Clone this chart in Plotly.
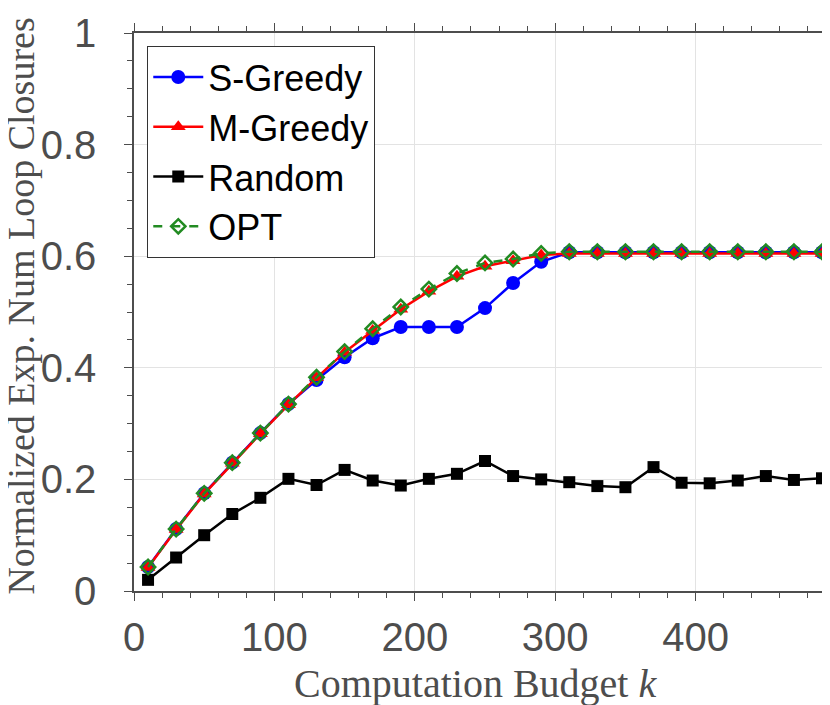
import plotly.graph_objects as go

# computation budget k
budget = [10, 30, 50, 70, 90, 110, 130, 150, 170, 190, 210, 230, 250,
          270, 290, 310, 330, 350, 370, 390, 410, 430, 450, 470, 490]

s_greedy = [0.043, 0.111, 0.175, 0.230, 0.283, 0.335, 0.378, 0.419, 0.453,
            0.473, 0.473, 0.473, 0.507, 0.552, 0.590, 0.607, 0.607, 0.607,
            0.607, 0.607, 0.607, 0.607, 0.607, 0.607, 0.607]
m_greedy = [0.042, 0.110, 0.174, 0.229, 0.282, 0.334, 0.382, 0.428, 0.467,
            0.505, 0.537, 0.564, 0.582, 0.592, 0.602, 0.605, 0.605, 0.605,
            0.605, 0.605, 0.605, 0.605, 0.605, 0.605, 0.605]
random_sel = [0.020, 0.060, 0.100, 0.138, 0.167, 0.201, 0.190, 0.217, 0.198,
              0.189, 0.201, 0.210, 0.233, 0.206, 0.200, 0.195, 0.188, 0.186,
              0.222, 0.194, 0.193, 0.198, 0.206, 0.199, 0.202]
opt = [0.043, 0.111, 0.175, 0.230, 0.283, 0.335, 0.383, 0.429, 0.470,
       0.509, 0.541, 0.569, 0.588, 0.595, 0.605, 0.608, 0.608, 0.608,
       0.608, 0.608, 0.608, 0.608, 0.608, 0.608, 0.608]

sans = "Liberation Sans, Arial, sans-serif"
serif = "Liberation Serif, Times New Roman, serif"
grey = "#4d4d4d"

fig = go.Figure()
fig.add_trace(go.Scatter(
    name="S-Greedy", x=budget, y=s_greedy, mode="lines+markers",
    line=dict(color="#0000ff", width=2.5), cliponaxis=False,
    marker=dict(symbol="circle", size=14, color="#0000ff")))
fig.add_trace(go.Scatter(
    name="M-Greedy", x=budget, y=m_greedy, mode="lines+markers",
    line=dict(color="#ff0000", width=2.5), cliponaxis=False,
    marker=dict(symbol="triangle-up", size=13, color="#ff0000")))
fig.add_trace(go.Scatter(
    name="Random", x=budget, y=random_sel, mode="lines+markers",
    line=dict(color="#000000", width=2.5), cliponaxis=False,
    marker=dict(symbol="square", size=12, color="#000000")))
fig.add_trace(go.Scatter(
    name="OPT", x=budget, y=opt, mode="lines+markers",
    line=dict(color="#228b22", width=2.5, dash="dash"), cliponaxis=False,
    marker=dict(symbol="diamond-open", size=11, color="#228b22",
                line=dict(color="#228b22", width=2.5))))

axis_common = dict(
    showline=True, linecolor=grey, linewidth=1.5, mirror="allticks",
    ticks="outside", ticklen=8, tickcolor=grey, tickwidth=1.2,
    showgrid=True, gridcolor="#e3e3e3", gridwidth=1.2,
    zeroline=False, automargin=False,
    tickfont=dict(family=sans, size=40, color=grey),
)

# the page body adds an 8px offset, so the figure is 8px smaller
fig.update_layout(
    width=822, height=697,
    paper_bgcolor="white", plot_bgcolor="white",
    margin=dict(l=126, r=8, t=25, b=114, autoexpand=False),
    showlegend=True,
    legend=dict(
        x=0.019, y=0.977, xanchor="left", yanchor="top",
        bgcolor="white", bordercolor="#333333", borderwidth=1.2,
        font=dict(family=sans, size=36, color="black"),
        tracegroupgap=0, itemwidth=50,
    ),
    xaxis=dict(
        range=[0, 490], dtick=100, tick0=0,
        minor=dict(dtick=20, ticks="outside", ticklen=5, tickcolor=grey,
                   showgrid=False),
        ticklabelstandoff=2,
        **axis_common),
    yaxis=dict(
        range=[0, 1], dtick=0.2, tick0=0,
        minor=dict(dtick=0.05, ticks="outside", ticklen=5, tickcolor=grey,
                   showgrid=False),
        ticklabelstandoff=20,
        **axis_common),
    annotations=[
        dict(text="Computation Budget <i>k</i>", xref="paper", yref="paper",
             x=0.496, y=-0.165, xanchor="center", yanchor="middle",
             showarrow=False, font=dict(family=serif, size=40, color=grey)),
        dict(text="Normalized Exp. Num Loop Closures", xref="paper",
             yref="paper", x=-0.164, y=0.51, xanchor="center",
             yanchor="middle", textangle=-90, showarrow=False,
             font=dict(family=serif, size=38, color=grey)),
    ],
)

fig.write_html("out.html")
